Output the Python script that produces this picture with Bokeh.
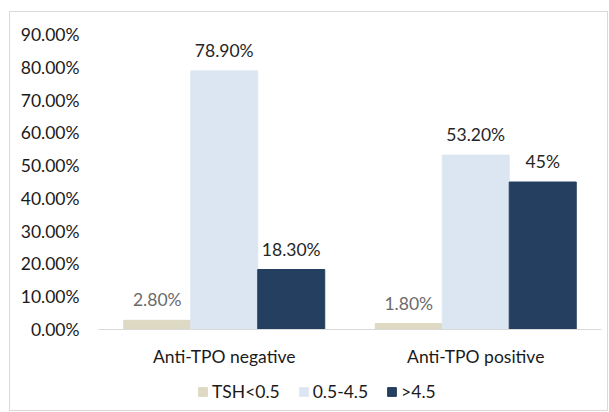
from bokeh.plotting import figure
from bokeh.layouts import column
from bokeh.models import (FactorRange, Range1d, Legend, LegendItem, FixedTicker,
                          PrintfTickFormatter, ColumnDataSource)
from bokeh.transform import dodge
from bokeh.core.properties import value
from bokeh.embed import file_html
from bokeh.resources import INLINE

categories = ["Anti-TPO negative", "Anti-TPO positive"]
series = ["TSH<0.5", "0.5-4.5", ">4.5"]
tsh_low = [2.8, 1.8]
tsh_mid = [78.9, 53.2]
tsh_high = [18.3, 45.0]
labels_low = ["2.80%", "1.80%"]
labels_mid = ["78.90%", "53.20%"]
labels_high = ["18.30%", "45%"]
y_ticks = [0, 10, 20, 30, 40, 50, 60, 70, 80, 90]

colors = ["#ddd9c3", "#dce6f2", "#243f60"]
label_colors = ["#6b6b6b", "#262626", "#262626"]
FONT = "Lato"
FS = "17.5px"

p = figure(x_range=FactorRange(*categories, range_padding=0),
           y_range=Range1d(0, 90),
           width=597, height=357, output_backend="svg", toolbar_location=None,
           min_border_left=88, min_border_right=6, min_border_top=22,
           min_border_bottom=40)
p.outline_line_color = None
p.xgrid.grid_line_color = None
p.ygrid.grid_line_color = None

src = ColumnDataSource(dict(cat=categories, low=tsh_low, mid=tsh_mid, high=tsh_high,
                            l_low=labels_low, l_mid=labels_mid, l_high=labels_high))
w = 0.2664
offs = [-w, 0.0, w]
cols = ["low", "mid", "high"]
lcols = ["l_low", "l_mid", "l_high"]
for i in range(3):
    p.vbar(x=dodge("cat", offs[i], range=p.x_range), top=cols[i], width=w,
           source=src, fill_color=colors[i], line_color=colors[i])
    p.text(x=dodge("cat", offs[i], range=p.x_range), y=cols[i], text=lcols[i], source=src,
           text_align="center", text_baseline="bottom", y_offset=-10,
           text_font=value(FONT), text_font_size=FS, text_color=label_colors[i])

p.yaxis.ticker = FixedTicker(ticks=y_ticks)
p.yaxis.formatter = PrintfTickFormatter(format="%.2f%%")
p.yaxis.axis_line_color = None
p.yaxis.major_tick_line_color = None
p.yaxis.minor_tick_line_color = None
p.yaxis.major_tick_out = 0
p.yaxis.major_tick_in = 0
p.yaxis.major_label_standoff = 19
p.yaxis.major_label_text_font = FONT
p.yaxis.major_label_text_font_size = FS
p.yaxis.major_label_text_color = "#1a1a1a"

p.xaxis.axis_line_color = "#d9d9d9"
p.xaxis.major_tick_line_color = None
p.xaxis.minor_tick_line_color = None
p.xaxis.major_tick_out = 0
p.xaxis.major_tick_in = 0
p.xaxis.major_label_standoff = 16
p.xaxis.major_label_text_font = FONT
p.xaxis.major_label_text_font_size = FS
p.xaxis.major_label_text_color = "#1a1a1a"

# legend strip below the chart
lg = figure(width=597, height=41, output_backend="svg", toolbar_location=None,
            x_range=Range1d(0, 1), y_range=Range1d(0, 1),
            x_axis_type=None, y_axis_type=None,
            min_border=0, min_border_left=0, min_border_right=0,
            min_border_top=0, min_border_bottom=0)
lg.outline_line_color = None
lg.xgrid.grid_line_color = None
lg.ygrid.grid_line_color = None
items = []
for i in range(3):
    r = lg.vbar(x=[0], top=[0], width=0.1, fill_color=colors[i], line_color=colors[i])
    items.append(LegendItem(label=series[i], renderers=[r]))
legend = Legend(items=items, orientation="horizontal", location=(99, 8),
                glyph_width=11, glyph_height=11, label_standoff=4, spacing=18,
                label_text_font=FONT, label_text_font_size=FS,
                label_text_color="#1a1a1a", border_line_color=None,
                background_fill_alpha=0, padding=2, margin=0)
lg.add_layout(legend, "center")

layout = column(p, lg, spacing=0,
                styles={"border": "1px solid #d9d9d9", "margin-left": "9px", "margin-top": "11px"})

open("out.html", "w").write(file_html(layout, INLINE))
